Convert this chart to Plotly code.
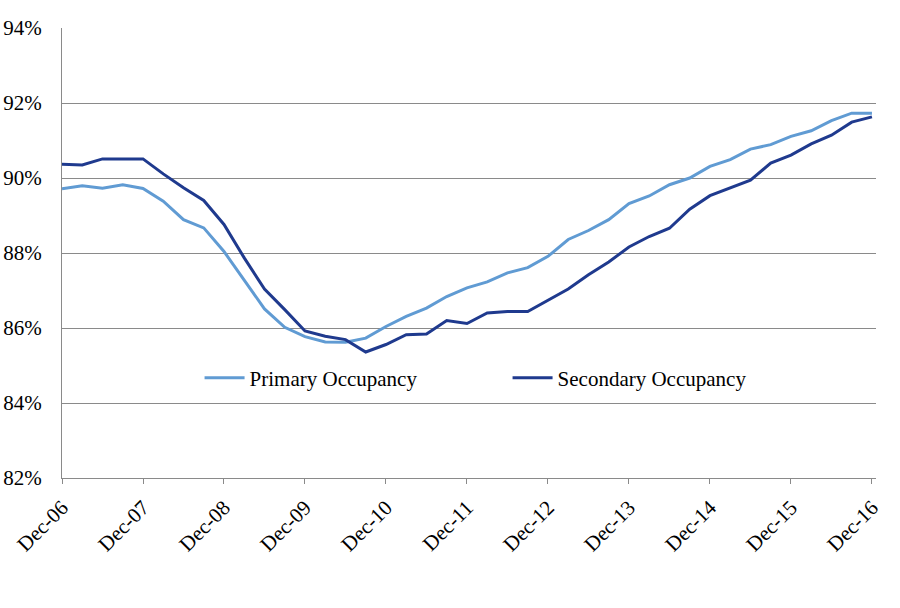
import plotly.graph_objects as go

# quarterly points, Dec-06 .. Dec-16
quarter_idx = list(range(41))
year_tick_idx = [0, 4, 8, 12, 16, 20, 24, 28, 32, 36, 40]
year_tick_labels = ["Dec-06", "Dec-07", "Dec-08", "Dec-09", "Dec-10", "Dec-11",
                    "Dec-12", "Dec-13", "Dec-14", "Dec-15", "Dec-16"]

primary_occupancy = [
    89.71, 89.79, 89.73, 89.82, 89.72, 89.38, 88.89, 88.67, 88.04, 87.26,
    86.51, 86.02, 85.77, 85.63, 85.62, 85.73, 86.04, 86.31, 86.53, 86.84,
    87.07, 87.23, 87.47, 87.61, 87.91, 88.36, 88.60, 88.89, 89.32, 89.52,
    89.82, 90.00, 90.31, 90.49, 90.77, 90.89, 91.11, 91.26, 91.53, 91.73,
    91.73,
]
secondary_occupancy = [
    90.37, 90.35, 90.51, 90.51, 90.51, 90.11, 89.74, 89.40, 88.76, 87.87,
    87.04, 86.49, 85.92, 85.78, 85.69, 85.36, 85.56, 85.82, 85.84, 86.20,
    86.12, 86.40, 86.44, 86.44, 86.73, 87.04, 87.42, 87.76, 88.16, 88.44,
    88.66, 89.17, 89.53, 89.73, 89.94, 90.40, 90.61, 90.91, 91.14, 91.49,
    91.63,
]
y_tick_vals = [82, 84, 86, 88, 90, 92, 94]
y_tick_labels = ["82%", "84%", "86%", "88%", "90%", "92%", "94%"]

serif = "Times New Roman, Liberation Serif, serif"
grid_col = "#8a8a8a"

fig = go.Figure()
fig.add_trace(go.Scatter(x=quarter_idx, y=primary_occupancy, mode="lines",
                         name="Primary Occupancy",
                         line=dict(color="#609BD3", width=3)))
fig.add_trace(go.Scatter(x=quarter_idx, y=secondary_occupancy, mode="lines",
                         name="Secondary Occupancy",
                         line=dict(color="#1F3A8E", width=3)))

fig.update_xaxes(range=[0, 40.2], tickvals=year_tick_idx, ticktext=year_tick_labels,
                 tickangle=-45, ticks="outside", ticklen=5, tickcolor=grid_col,
                 ticklabelstandoff=3,
                 showline=True, linecolor=grid_col, linewidth=1,
                 showgrid=False, zeroline=False, automargin=False,
                 tickfont=dict(family=serif, size=21, color="black"))
fig.update_yaxes(range=[82, 94], tickvals=y_tick_vals, ticktext=y_tick_labels,
                 showline=True, linecolor=grid_col, linewidth=1,
                 showgrid=True, gridcolor=grid_col, gridwidth=1, zeroline=False,
                 ticks="", ticklabelstandoff=15, automargin=False,
                 tickfont=dict(family=serif, size=21, color="black"))

fig.update_layout(
    width=900, height=608,
    margin=dict(l=62, r=24, t=28, b=130),
    plot_bgcolor="white", paper_bgcolor="white",
    legend=dict(orientation="h", x=0.169, y=0.222, xanchor="left", yanchor="middle",
                bgcolor="rgba(0,0,0,0)", entrywidth=253, itemwidth=40,
                font=dict(family=serif, size=21, color="black")),
)

# drop the default 8px page margin so the figure sits at the window corner
fig.write_html("out.html", config={"displayModeBar": False},
               post_script="document.body.style.margin = '0px';")
